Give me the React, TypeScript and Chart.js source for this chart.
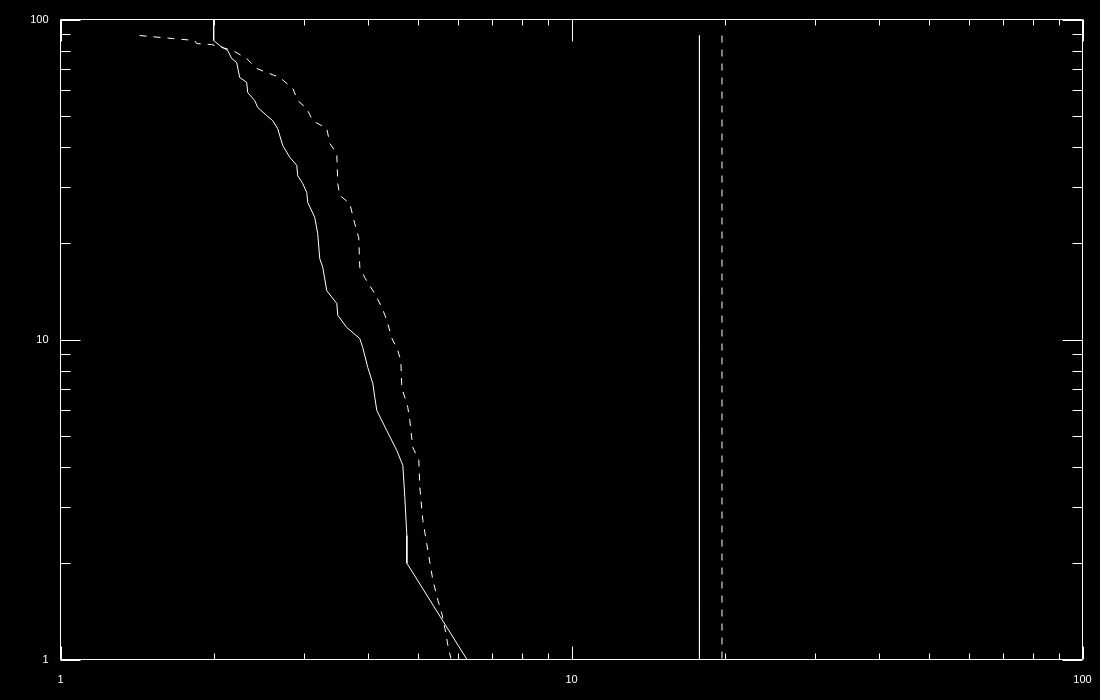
import React, { useEffect, useRef } from "react";
import { Chart, registerables } from "chart.js";

Chart.register(...registerables);

// Solid curve (x, y)
const solidX = [1.994, 1.994, 2.049, 2.124, 2.163, 2.212, 2.242, 2.314, 2.325, 2.399, 2.432, 2.532, 2.602, 2.661, 2.722, 2.81, 2.9, 2.912, 2.979, 3.033, 3.047, 3.144, 3.187, 3.216, 3.26, 3.32, 3.473, 3.488, 3.633, 3.852, 3.904, 3.993, 4.085, 4.122, 4.159, 4.351, 4.551, 4.677, 4.719, 4.762, 4.762, 6.243];
const solidY = [100, 86.0, 82.9, 80.0, 75.5, 73.4, 65.9, 63.6, 59.1, 55.8, 53.1, 50.1, 48.3, 45.6, 40.4, 37.1, 35.0, 32.5, 30.7, 28.8, 26.8, 24.1, 21.4, 17.9, 16.8, 14.2, 12.96, 11.9, 10.9, 10.07, 9.44, 8.18, 7.29, 6.59, 6.0, 5.19, 4.5, 4.04, 3.21, 2.44, 2.0, 1.0];

// Dashed curve (x, y)
const dashedX = [1.428, 1.657, 1.83, 1.847, 1.976, 2.173, 2.314, 2.421, 2.532, 2.685, 2.848, 2.912, 3.033, 3.116, 3.32, 3.365, 3.473, 3.488, 3.52, 3.683, 3.766, 3.834, 3.852, 3.94, 4.122, 4.254, 4.351, 4.45, 4.571, 4.634, 4.656, 4.719, 4.783, 4.826, 4.892, 5.026, 5.049, 5.118, 5.235, 5.354, 5.477, 5.577, 5.653, 5.73, 5.808];
const dashedY = [89.1, 87.2, 86.0, 84.1, 83.5, 80.0, 75.5, 70.3, 68.3, 65.9, 60.9, 55.8, 52.7, 48.3, 45.6, 41.0, 38.1, 30.7, 28.2, 26.6, 23.0, 20.8, 16.8, 15.6, 13.9, 12.6, 11.5, 10.1, 9.24, 8.6, 7.03, 6.59, 6.13, 5.58, 4.6, 4.19, 3.45, 2.72, 2.19, 1.77, 1.53, 1.39, 1.25, 1.106, 1.007];

// Vertical reference lines
const solidVLineX = 17.8;
const dashedVLineX = 19.7;
const vLineY = [89.1, 1];

// Axis labels
const xTickLabels = [1, 10, 100];
const yTickLabels = [1, 10, 100];
const minorFactors = [2, 3, 4, 5, 6, 7, 8, 9];
const decades = [1, 10];

const toPts = (xs: number[], ys: number[]) => xs.map((x, i) => ({ x, y: ys[i] }));

const framePlugin = {
  id: "frameTicks",
  afterDraw(chart: any) {
    const { ctx, chartArea } = chart;
    const { left, right, top, bottom } = chartArea;
    const xs = chart.scales.x;
    const ys = chart.scales.y;
    ctx.save();
    ctx.strokeStyle = "#ffffff";
    ctx.lineWidth = 1;
    ctx.beginPath();
    ctx.rect(left, top, right - left, bottom - top);
    ctx.stroke();
    ctx.beginPath();
    const xMajor = xTickLabels;
    const yMajor = yTickLabels;
    const minors: number[] = [];
    decades.forEach((d) => minorFactors.forEach((f) => minors.push(d * f)));
    // x ticks
    xMajor.forEach((v) => {
      const px = Math.round(xs.getPixelForValue(v)) + 0.5;
      ctx.moveTo(px, bottom);
      ctx.lineTo(px, bottom - 13);
      ctx.moveTo(px, top);
      ctx.lineTo(px, top + 22);
    });
    minors.forEach((v) => {
      const px = Math.round(xs.getPixelForValue(v)) + 0.5;
      ctx.moveTo(px, bottom);
      ctx.lineTo(px, bottom - 6);
      ctx.moveTo(px, top);
      ctx.lineTo(px, top + 6);
    });
    // y ticks
    yMajor.forEach((v) => {
      const py = Math.round(ys.getPixelForValue(v)) + 0.5;
      ctx.moveTo(left, py);
      ctx.lineTo(left + 20, py);
      ctx.moveTo(right, py);
      ctx.lineTo(right - 20, py);
    });
    minors.forEach((v) => {
      const py = Math.round(ys.getPixelForValue(v)) + 0.5;
      ctx.moveTo(left, py);
      ctx.lineTo(left + 10, py);
      ctx.moveTo(right, py);
      ctx.lineTo(right - 10, py);
    });
    ctx.stroke();
    ctx.restore();
  },
};

export default function App() {
  const ref = useRef<HTMLCanvasElement | null>(null);

  useEffect(() => {
    document.body.style.margin = "0";
    document.body.style.background = "#000";
    const canvas = ref.current;
    if (!canvas) return;
    const font = { family: "'Liberation Sans', Arial, sans-serif", size: 11 };
    const line = {
      borderColor: "#ffffff",
      borderWidth: 1,
      pointRadius: 0,
      showLine: true,
      tension: 0,
      fill: false,
    };
    const chart = new Chart(canvas, {
      type: "scatter",
      data: {
        datasets: [
          { ...line, data: toPts(solidX, solidY) },
          { ...line, data: toPts(dashedX, dashedY), borderDash: [7, 7] },
          { ...line, data: vLineY.map((y) => ({ x: solidVLineX, y })) },
          { ...line, data: vLineY.map((y) => ({ x: dashedVLineX, y })), borderDash: [7, 7] },
        ],
      },
      options: {
        responsive: false,
        animation: false,
        layout: { padding: { top: 19.5, right: 17.5, left: 0, bottom: 0 } },
        plugins: { legend: { display: false }, tooltip: { enabled: false } },
        scales: {
          x: {
            type: "logarithmic",
            min: 1,
            max: 100,
            grid: { display: false },
            border: { display: false },
            afterBuildTicks: (s: any) => {
              s.ticks = xTickLabels.map((v) => ({ value: v }));
            },
            afterFit: (s: any) => {
              s.height = 40.5;
            },
            ticks: {
              color: "#ffffff",
              font,
              padding: 6,
              autoSkip: false,
              maxRotation: 0,
              callback: (v: any) => String(v),
            },
          },
          y: {
            type: "logarithmic",
            min: 1,
            max: 100,
            grid: { display: false },
            border: { display: false },
            afterBuildTicks: (s: any) => {
              s.ticks = yTickLabels.map((v) => ({ value: v }));
            },
            afterFit: (s: any) => {
              s.width = 60.5;
            },
            ticks: {
              color: "#ffffff",
              font,
              padding: 4,
              autoSkip: false,
              callback: (v: any) => String(v),
            },
          },
        },
      },
      plugins: [framePlugin],
    } as any);
    return () => chart.destroy();
  }, []);

  return (
    <div style={{ width: 1100, height: 700, background: "#000" }}>
      <canvas ref={ref} width={1100} height={700} style={{ display: "block" }} />
    </div>
  );
}
